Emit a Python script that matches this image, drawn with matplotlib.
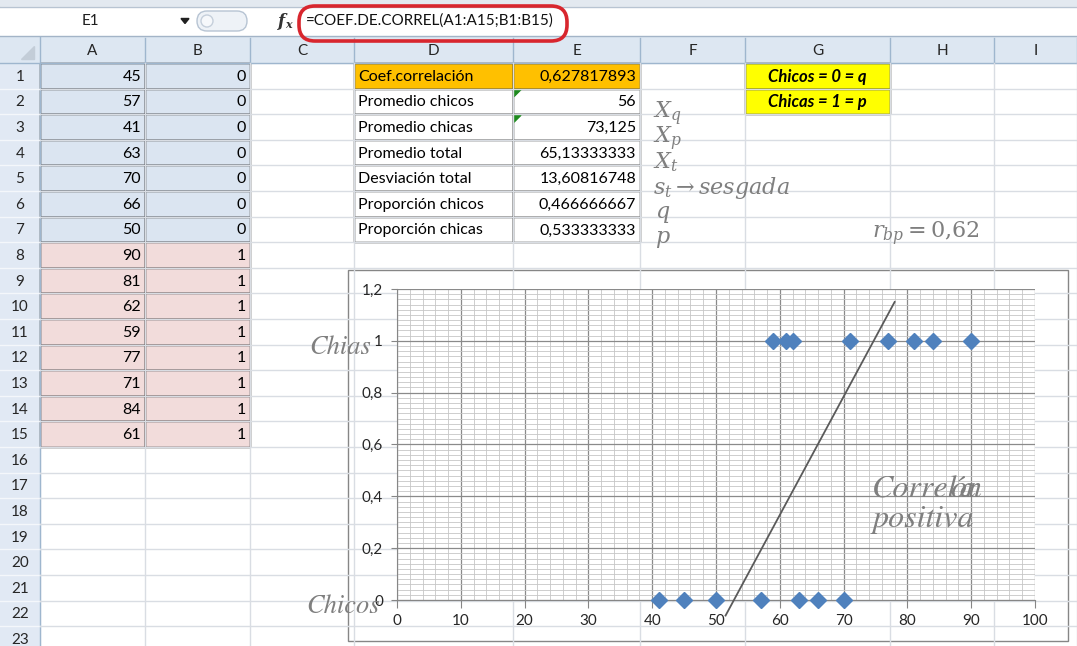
import matplotlib.pyplot as plt
from matplotlib.patches import Rectangle, FancyBboxPatch, Polygon, Circle
from matplotlib.ticker import MultipleLocator, FuncFormatter

plt.rcParams['font.family'] = ['Lato', 'DejaVu Sans']
plt.rcParams['mathtext.fontset'] = 'stix'

# datos de la hoja (A = puntaje, B = sexo)
puntaje = [45, 57, 41, 63, 70, 66, 50, 90, 81, 62, 59, 77, 71, 84, 61]
sexo = [0, 0, 0, 0, 0, 0, 0, 1, 1, 1, 1, 1, 1, 1, 1]

etiquetas = ['Coef.correlación', 'Promedio chicos', 'Promedio chicas', 'Promedio total',
             'Desviación total', 'Proporción chicos', 'Proporción chicas']
valores = ['0,627817893', '56', '73,125', '65,13333333', '13,60816748',
           '0,466666667', '0,533333333']
codigos = ['Chicos = 0 = q', 'Chicas = 1 = p']
columnas = ['A', 'B', 'C', 'D', 'E', 'F', 'G', 'H', 'I']
formula = '=COEF.DE.CORREL(A1:A15;B1:B15)'

# recta trazada a mano sobre el grafico
recta_x = [51.5, 78.0]
recta_y = [-0.06, 1.15]

W, H = 1077, 646
fig = plt.figure(figsize=(W / 100, H / 100), dpi=100)
hoja = fig.add_axes([0, 0, 1, 1])
hoja.set_xlim(0, W)
hoja.set_ylim(H, 0)
hoja.axis('off')

bordes = [0, 40, 145, 250, 354, 513, 640, 745, 890, 994, 1077]
y0, alto = 63, 25.6
fs = 11.5


def fila(n):
    return y0 + (n - 1) * alto


# barra de formulas
hoja.add_patch(Rectangle((0, 0), W, 38, color='#e3e9f0'))
hoja.add_patch(Rectangle((0, 7), W, 28, color='white'))
hoja.plot([0, W], [7, 7], color='#b8c4d2', lw=1)
hoja.plot([0, W], [35.5, 35.5], color='#a3b4c7', lw=1)
hoja.text(90, 21, 'E1', ha='center', va='center', fontsize=11, color='#1f1f1f')
hoja.add_patch(Polygon([(181, 18.5), (189, 18.5), (185, 23.5)], color='#202020'))
hoja.add_patch(FancyBboxPatch((197, 11), 50, 20, boxstyle='round,pad=0,rounding_size=10',
                              facecolor='#eef2f7', edgecolor='#b7c4d3', lw=1))
hoja.add_patch(Circle((207, 21), 6, facecolor='#f6f8fb', edgecolor='#c5cfdb', lw=1))
hoja.text(278, 22, 'f', fontsize=12, family='DejaVu Serif', style='italic',
          weight='bold', va='center', color='#333333')
hoja.text(285, 24, 'x', fontsize=8, family='DejaVu Serif', style='italic',
          weight='bold', va='center', color='#333333')
hoja.text(306, 21, formula, fontsize=11, va='center', color='#111111')

# encabezados de columna y fila
hoja.add_patch(Rectangle((0, 37), W, y0 - 37, color='#dde7f2'))
hoja.add_patch(Rectangle((0, y0), bordes[1], H - y0, color='#e1e9f4'))
hoja.plot([0, W], [y0, y0], color='#9eb6ce', lw=1)
hoja.plot([bordes[1], bordes[1]], [37, H], color='#9eb6ce', lw=1)
hoja.add_patch(Polygon([(34, 46), (34, 59), (21, 59)], color='#c3cdd8'))
for i, letra in enumerate(columnas):
    x_izq, x_der = bordes[i + 1], bordes[i + 2]
    hoja.plot([x_der, x_der], [38, y0], color='#9eb6ce', lw=1)
    hoja.text((x_izq + x_der) / 2, 51, letra, ha='center', va='center',
              fontsize=11, color='#262626')
for n in range(1, 24):
    hoja.plot([0, bordes[1]], [fila(n + 1), fila(n + 1)], color='#f4f7fb', lw=1)
    hoja.text(20, fila(n) + alto / 2 + 1, str(n), ha='center', va='center',
              fontsize=11, color='#262626')

# cuadricula de la hoja
for x in bordes[2:]:
    hoja.plot([x, x], [y0, H], color='#d9dde3', lw=1)
for n in range(2, 25):
    hoja.plot([bordes[1], W], [fila(n), fila(n)], color='#d9dde3', lw=1)

# columnas A y B
for i, (a, b) in enumerate(zip(puntaje, sexo)):
    arriba = fila(i + 1)
    fondo = '#dbe5f1' if b == 0 else '#f2dcdb'
    for x_izq, x_der, v in [(bordes[1], bordes[2], a), (bordes[2], bordes[3], b)]:
        hoja.add_patch(Rectangle((x_izq, arriba), x_der - x_izq, alto,
                                 facecolor=fondo, edgecolor='black', lw=1))
        hoja.text(x_der - 4, arriba + alto / 2 + 1, str(v), ha='right', va='center',
                  fontsize=fs, color='black')

# tabla de resultados D1:E7
for i, (etq, val) in enumerate(zip(etiquetas, valores)):
    arriba = fila(i + 1)
    fondo = '#ffc000' if i == 0 else 'white'
    for x_izq, x_der in [(bordes[4], bordes[5]), (bordes[5], bordes[6])]:
        hoja.add_patch(Rectangle((x_izq, arriba), x_der - x_izq, alto,
                                 facecolor=fondo, edgecolor='black', lw=1))
    hoja.text(bordes[4] + 4, arriba + alto / 2 + 1, etq, va='center', fontsize=fs)
    hoja.text(bordes[6] - 4, arriba + alto / 2 + 1, val, ha='right', va='center',
              fontsize=fs)
for n in (2, 3):
    t = fila(n) + 1
    hoja.add_patch(Polygon([(514, t), (521, t), (514, t + 7)], color='#1e8a1e'))

# codigos G1:G2
for i, txt in enumerate(codigos):
    arriba = fila(i + 1)
    hoja.add_patch(Rectangle((bordes[7], arriba), bordes[8] - bordes[7], alto,
                             facecolor='#ffff00', edgecolor='black', lw=1))
    hoja.text((bordes[7] + bordes[8]) / 2, arriba + alto / 2 + 1, txt, ha='center',
              va='center', fontsize=12, weight='bold', style='italic')

# marco del grafico
hoja.add_patch(Rectangle((348, 270), 720, 371, facecolor='white',
                         edgecolor='#868686', lw=1))

hoja.add_patch(FancyBboxPatch((299, 6), 268, 35, boxstyle='round,pad=0,rounding_size=16',
                              fill=False, edgecolor='#d8262e', lw=2.6, zorder=6))

# grafico de dispersion
ax = fig.add_axes([397 / W, (H - 600) / H, 638 / W, 311 / H])
ax.set_xlim(0, 100)
ax.set_ylim(0, 1.2)
ax.xaxis.set_major_locator(MultipleLocator(10))
ax.xaxis.set_minor_locator(MultipleLocator(2))
ax.yaxis.set_major_locator(MultipleLocator(0.2))
ax.yaxis.set_minor_locator(MultipleLocator(0.02))
ax.yaxis.set_major_formatter(FuncFormatter(lambda v, p: f'{v:g}'.replace('.', ',')))
ax.grid(which='minor', color='#c6c6c6', lw=0.6)
ax.grid(which='major', color='#8a8a8a', lw=0.9)
ax.set_axisbelow(True)
for lado in ('top', 'right'):
    ax.spines[lado].set_visible(False)
for lado in ('left', 'bottom'):
    ax.spines[lado].set_color('#868686')
ax.tick_params(which='minor', length=0)
ax.tick_params(axis='x', which='major', length=6, color='#868686', pad=4,
               labelsize=11, labelcolor='#262626')
ax.tick_params(axis='y', which='major', length=4, color='#868686', pad=6,
               labelsize=11, labelcolor='#262626')

ax.plot(puntaje, sexo, 'D', ms=8.5, color='#4f81bd', clip_on=False, zorder=4)
ax.plot(recta_x, recta_y, color='#5a5a5a', lw=1.3, clip_on=False, zorder=3)

# anotaciones en gris por encima de todo
capa = fig.add_axes([0, 0, 1, 1])
capa.set_xlim(0, W)
capa.set_ylim(H, 0)
capa.axis('off')
gris = '#7f7f7f'
notas = [(653, 118, r'$X_q$'), (653, 143, r'$X_p$'), (653, 168, r'$X_t$'),
         (653, 194, r'$s_t \rightarrow sesgada$'), (655, 218, r'$q$'), (655, 243, r'$p$'),
         (872, 238, r'$r_{bp} = 0{,}62$')]
for x, y, txt in notas:
    capa.text(x, y, txt, fontsize=16, color=gris, va='baseline',
              math_fontfamily='dejavuserif')
serif = dict(family='STIXGeneral', style='italic', color=gris, va='baseline')
capa.text(309, 354, 'Chias', fontsize=19, **serif)
capa.text(306, 613, 'Chicos', fontsize=19, **serif)
capa.text(872, 497, 'Correl', fontsize=23, **serif)
capa.text(950, 497, 'ón', fontsize=23, **serif)
capa.text(959, 497, 'a', fontsize=23, **serif)
capa.text(872, 527, 'positiva', fontsize=23, **serif)

fig.savefig('out.png', dpi=100)
